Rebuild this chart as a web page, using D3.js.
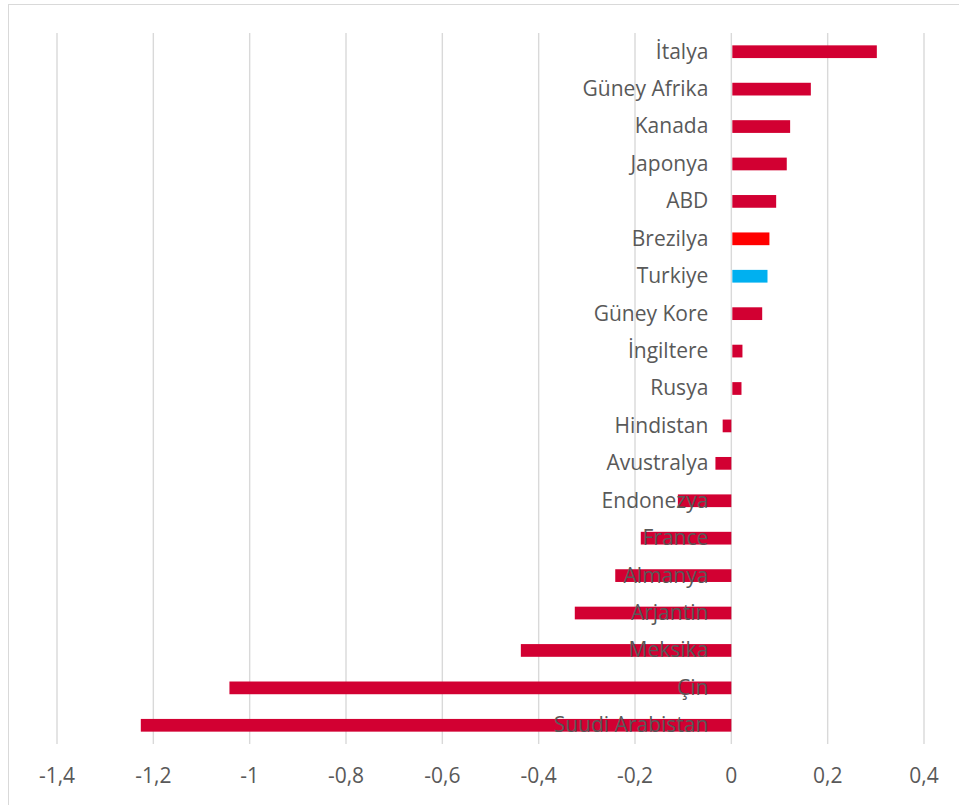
<!DOCTYPE html>
<html>
<head>
<meta charset="utf-8">
<script src="https://cdn.jsdelivr.net/npm/d3@7"></script>
<style>
  html, body { margin: 0; padding: 0; background: #fff; }
  svg { display: block; }
</style>
</head>
<body>
<svg id="chart" width="959" height="805"></svg>
<script>
// Countries, top to bottom
const countries = [
  "İtalya", "Güney Afrika", "Kanada", "Japonya", "ABD", "Brezilya", "Turkiye",
  "Güney Kore", "İngiltere", "Rusya", "Hindistan", "Avustralya", "Endonezya",
  "France", "Almanya", "Arjantin", "Meksika", "Çin", "Suudi Arabistan"
];
// Change per country
const values = [
  0.30, 0.163, 0.12, 0.113, 0.091, 0.077, 0.073,
  0.062, 0.021, 0.019, -0.018, -0.033, -0.111,
  -0.188, -0.241, -0.325, -0.437, -1.042, -1.226
];
// Highlighted countries
const highlight = { "Brezilya": "#FF0000", "Turkiye": "#00B0F0" };
const baseColor = "#D20032";

const xTicks = [-1.4, -1.2, -1, -0.8, -0.6, -0.4, -0.2, 0, 0.2, 0.4];

const svg = d3.select("#chart");
const W = 959, H = 805;

// chart frame
svg.append("rect")
  .attr("x", 8.5).attr("y", 4.5)
  .attr("width", W + 10).attr("height", H + 10)
  .attr("fill", "#fff").attr("stroke", "#d9d9d9").attr("stroke-width", 1);

const plot = { left: 57, right: 924, top: 33, bottom: 744 };

const x = d3.scaleLinear().domain([-1.4, 0.4]).range([plot.left, plot.right]);
const y = d3.scaleBand().domain(countries).range([plot.top, plot.bottom]).paddingInner(0.66).paddingOuter(0.33);

const fontFamily = "'Open Sans', sans-serif";
const textColor = "#595959";

// vertical gridlines
svg.append("g")
  .selectAll("line")
  .data(xTicks)
  .join("line")
  .attr("x1", d => x(d)).attr("x2", d => x(d))
  .attr("y1", plot.top).attr("y2", plot.bottom)
  .attr("stroke", "#d9d9d9").attr("stroke-width", 1.4);

// bars
svg.append("g")
  .selectAll("rect")
  .data(countries.map((c, i) => ({ c, v: values[i] })))
  .join("rect")
  .attr("x", d => x(Math.min(0, d.v)) + (d.v > 0 ? 1 : 0))
  .attr("y", d => y(d.c))
  .attr("width", d => Math.abs(x(d.v) - x(0)))
  .attr("height", y.bandwidth())
  .attr("fill", d => highlight[d.c] || baseColor);

// category labels, drawn over the bars
svg.append("g")
  .selectAll("text")
  .data(countries)
  .join("text")
  .attr("x", x(0) - 23)
  .attr("y", d => y(d) + y.bandwidth() / 2)
  .attr("dy", "0.33em")
  .attr("text-anchor", "end")
  .attr("font-family", fontFamily)
  .attr("font-size", 21)
  .attr("fill", textColor)
  .text(d => d);

// x tick labels
const fmt = d => d3.format("")(+d.toFixed(1)).replace(".", ",").replace("−", "-");
svg.append("g")
  .selectAll("text")
  .data(xTicks)
  .join("text")
  .attr("x", d => x(d))
  .attr("y", 783)
  .attr("text-anchor", "middle")
  .attr("font-family", fontFamily)
  .attr("font-size", 21)
  .attr("fill", textColor)
  .text(fmt);
</script>
</body>
</html>
